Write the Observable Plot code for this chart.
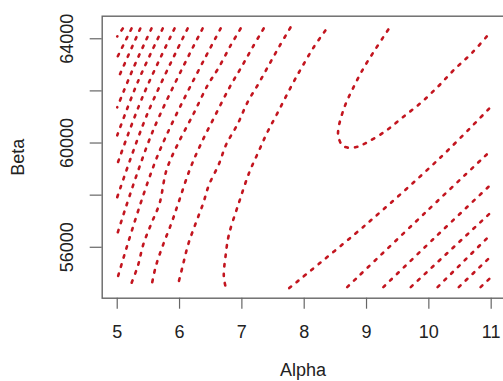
<!DOCTYPE html>
<html>
<head>
<meta charset="utf-8">
<script src="https://cdn.jsdelivr.net/npm/d3@7"></script>
<script src="https://cdn.jsdelivr.net/npm/@observablehq/plot@0.6"></script>
<style>
  html, body { margin: 0; padding: 0; background: #fff; overflow: hidden; }
</style>
</head>
<body>
<div id="chart"></div>
<script>
// Axis ticks
const xTicks = [5, 6, 7, 8, 9, 10, 11];
const yTicks = [56000, 58000, 60000, 62000, 64000];
const yLabels = [56000, 60000, 64000];

// Contour lines: [Alpha, Beta]
const cL9 = [[5.09, 64395], [5.00, 64088]];
const cL8 = [[5.23, 64395], [5.00, 63284]];
const cL7 = [[5.37, 64395], [5.00, 62402]];
const cL6 = [[5.55, 64395], [5.26, 62881], [5.00, 61368]];
const cL5 = [[5.73, 64395], [5.33, 62345], [5.00, 60295]];
const cL4 = [[5.92, 64395], [5.41, 61789], [5.00, 59184]];
const cL3 = [[6.13, 64395], [5.49, 61157], [5.00, 57920]];
const cL2 = [[6.37, 64395], [5.57, 60449], [5.00, 56503]];
const cL1 = [[6.66, 64395], [5.66, 59587], [5.00, 54779]];
const c1 = [[6.98,64395],[6.82,63743],[6.63,62900],[6.45,62211],[6.22,61100],[5.97,59951],[5.79,58954],[5.68,57690],[5.55,56924],[5.42,56120],[5.33,55277],[5.21,54511]];
const c2 = [[7.35,64395],[7.17,63667],[6.99,62900],[6.82,62211],[6.58,61100],[6.34,59951],[6.16,58954],[5.98,57690],[5.87,56924],[5.74,56120],[5.62,55277],[5.55,54511]];
const c3 = [[7.78,64433],[7.60,63705],[7.43,62977],[7.27,62288],[7.09,61560],[6.93,60717],[6.75,59951],[6.63,59184],[6.47,58380],[6.38,57690],[6.26,56924],[6.14,56120],[6.05,55277],[5.97,54511]];
const c4 = [[8.34,64318],[8.15,63667],[7.97,62939],[7.80,62211],[7.56,61100],[7.40,60372],[7.27,59682],[7.12,58878],[6.95,57690],[6.79,56464],[6.74,55698],[6.71,54894],[6.74,54472]];
const cU = [[9.35,64356],[9.14,63590],[8.95,62862],[8.79,62134],[8.65,61406],[8.55,60564],[8.55,60219],[8.63,59874],[8.82,59836],[8.98,59989],[9.30,60449],[9.58,60985],[9.88,61559],[10.15,62173],[10.41,62824],[10.70,63475],[10.97,64203]];
const cA = [[7.76,54434],[8.98,56848],[10.19,59453],[11.0,61400]];
const cB = [[8.69,54472],[9.95,57346],[11.0,59721]];
const cC = [[9.27,54472],[10.07,56311],[11.0,58418]];
const cD = [[9.71,54472],[11.0,57346]];
const cE = [[10.14,54472],[11.0,56503]];
const cF = [[10.48,54472],[11.0,55660]];
const cG = [[10.83,54472],[11.0,54855]];

const contourLines = [cL9, cL8, cL7, cL6, cL5, cL4, cL3, cL2, cL1, c1, c2, c3, c4, cU, cA, cB, cC, cD, cE, cF, cG];
const table = contourLines.flatMap((pts, id) => pts.map(([a, b]) => ({alpha: a, beta: b, id})));

const red = "#c3151f";
const ink = "#222";
const axisGray = "#666";
const fs = 18;

const chart = Plot.plot({
  width: 506,
  height: 381,
  marginLeft: 101.7,
  marginRight: 0.3,
  marginTop: 15.7,
  marginBottom: 83.3,
  style: {fontFamily: "'Liberation Sans', Arial, sans-serif", background: "#fff", maxWidth: "none"},
  x: {domain: [4.759, 11.241]},
  y: {domain: [54046, 64866]},
  marks: [
    Plot.line(table, {
      x: "alpha", y: "beta", z: "id",
      curve: "catmull-rom",
      stroke: red, strokeWidth: 2.6,
      strokeDasharray: "2.5,7"
    }),
    Plot.frame({stroke: axisGray, strokeWidth: 1.4}),
    Plot.axisX({ticks: xTicks, tickSize: 11, tickFormat: () => "", stroke: axisGray, strokeWidth: 1.2, label: null}),
    Plot.axisY({ticks: yTicks, tickSize: 12, tickFormat: () => "", stroke: axisGray, strokeWidth: 1.2, label: null}),
    Plot.text(xTicks, {x: d => d, text: d => String(d), frameAnchor: "bottom", dy: 39.3, lineAnchor: "bottom", fontSize: fs, fill: ink}),
    Plot.text(yLabels, {y: d => d, text: d => String(d), frameAnchor: "left", dx: -29, rotate: -90, textAnchor: "middle", lineAnchor: "bottom", fontSize: fs, fill: ink}),
    Plot.text(["Beta"], {frameAnchor: "left", dx: -78.4, rotate: -90, textAnchor: "middle", lineAnchor: "bottom", fontSize: fs, fill: ink}),
    Plot.text(["Alpha"], {frameAnchor: "bottom", dx: -1.2, dy: 78, textAnchor: "middle", lineAnchor: "bottom", fontSize: fs, fill: ink})
  ]
});
document.getElementById("chart").appendChild(chart);
</script>
</body>
</html>
